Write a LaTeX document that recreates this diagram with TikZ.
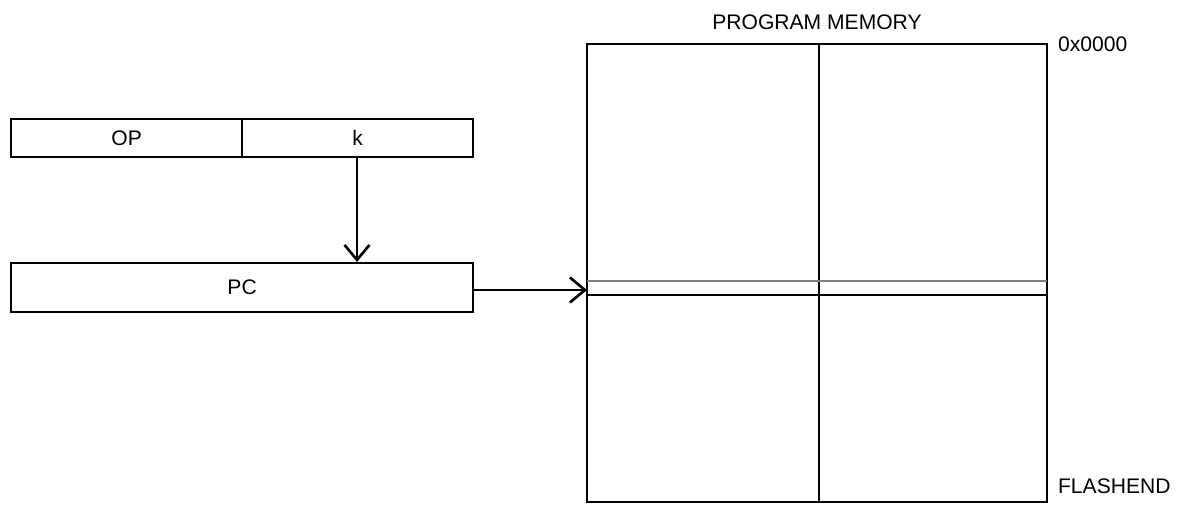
\documentclass[tikz,border=0pt]{standalone}
\usepackage{fontspec}
\setmainfont{Liberation Sans}
\usetikzlibrary{positioning,arrows.meta}
\tikzset{
  field/.style={draw, line width=1.3pt, minimum height=0.76cm, inner sep=0pt, font=\large},
  label/.style={font=\large, inner sep=1pt},
  link/.style={-{Straight Barb[length=3mm, width=5mm]}, line width=1.5pt}
}
\begin{document}
\begin{tikzpicture}[x=0.02cm, y=-0.02cm]
\useasboundingbox (0,0) rectangle (1201,506);
% instruction word
\node[field, minimum width=4.62cm, anchor=north west] (op) at (10,118) {OP};
\node[field, minimum width=4.62cm, anchor=north west] (k) at (241,118) {k};
% program counter
\node[field, minimum width=9.24cm, minimum height=0.98cm, anchor=north west] (pc) at (10,262) {PC};
% program memory
\draw[line width=1.5pt] (587,44) rectangle (1047,502);
\draw[line width=1.5pt] (819,44) -- (819,502);
\draw[gray, line width=0.8pt] (587,281) -- (1047,281);
\draw[line width=1.3pt] (587,295) -- (1047,295);
\coordinate (entry) at (587,290);
\node[label] (title) at (817,22) {PROGRAM MEMORY};
\node[label, anchor=west] (start) at (1056,44) {0x0000};
\node[label, anchor=west] (end) at (1056,486) {FLASHEND};
\draw[link] (k.south -| 357,0) -- (pc.north -| 357,0);
\draw[link] (pc.east |- entry) -- (entry);
\end{tikzpicture}
\end{document}
